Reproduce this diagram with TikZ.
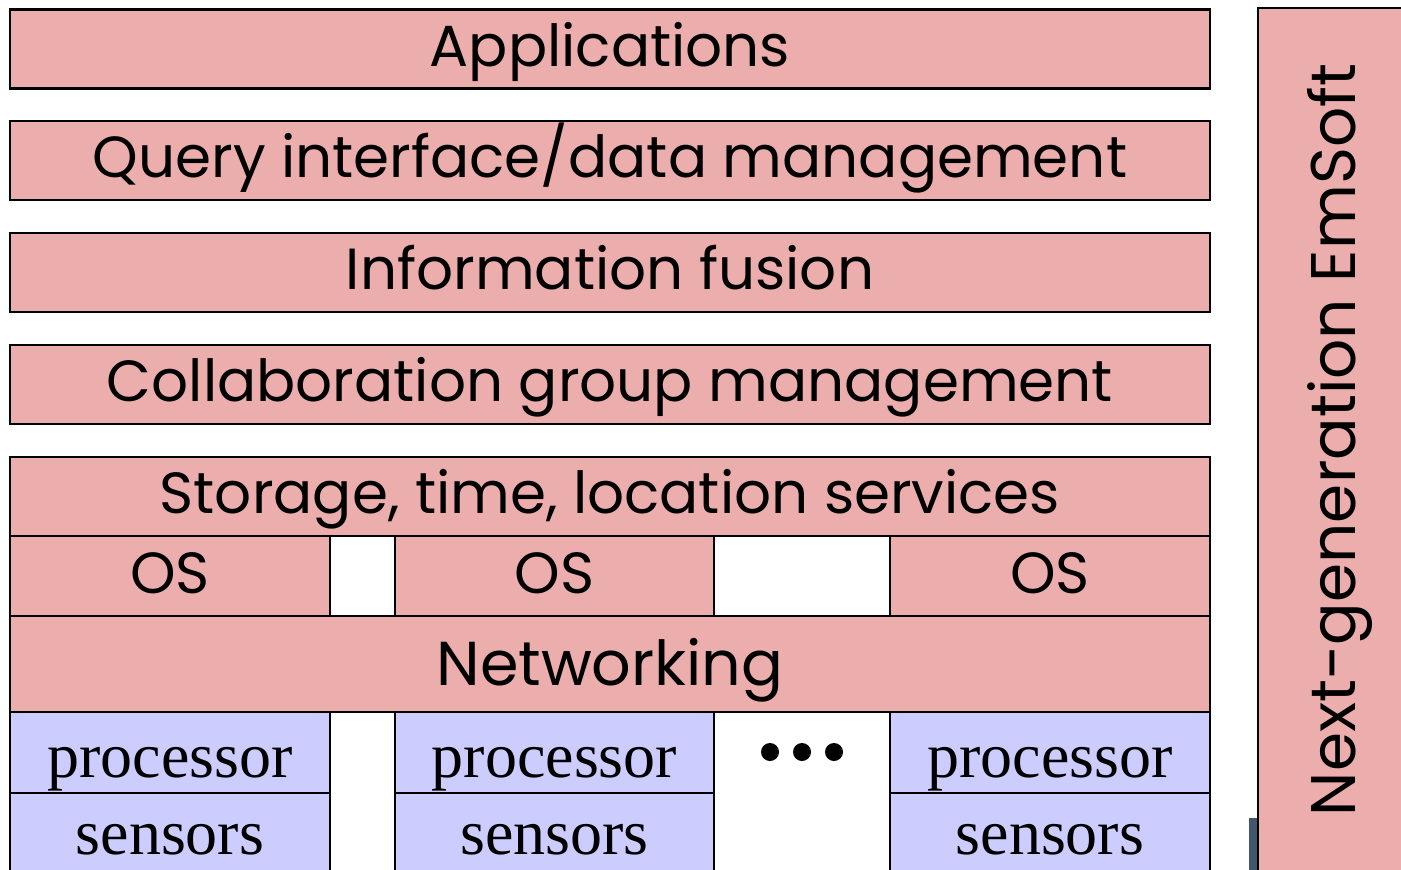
\documentclass[tikz,border=0pt]{standalone}
\usepackage{fontspec}
\setmainfont{Liberation Serif}
\newfontfamily\layerfont{Poppins}
\definecolor{layerR}{RGB}{236,173,173}
\definecolor{hwB}{RGB}{204,204,255}
\definecolor{edgeD}{RGB}{66,86,108}

\begin{document}
\begin{tikzpicture}[x=1pt,y=-1pt,
  layer/.style={draw,line width=2.4pt,fill=layerR,inner sep=0pt,minimum height=79pt,
    text height=40pt,text depth=6pt,font=\layerfont\fontsize{58}{64}\selectfont},
  hw/.style={draw,line width=2.4pt,fill=hwB,inner sep=0pt,minimum height=80pt,
    text height=49pt,text depth=0pt,font=\fontsize{64}{70}\selectfont},
  dot/.style={circle,fill=black,inner sep=0pt,minimum size=18pt}]
\path[use as bounding box,clip] (0,0) rectangle (1401,870);
% software stack
\node[layer,minimum width=1200pt] (apps) at (610,49) {Applications};
\node[layer,minimum width=1200pt] (query) at (610,160.5) {Query interface/data management};
\node[layer,minimum width=1200pt] (fusion) at (610,272.5) {Information fusion};
\node[layer,minimum width=1200pt] (collab) at (610,384.5) {Collaboration group management};
\node[layer,minimum width=1200pt] (store) at (610,496.5) {Storage, time, location services};
\node[layer,minimum width=320pt,minimum height=80pt] (os1) at (170,576) {OS};
\node[layer,minimum width=319pt,minimum height=80pt] (os2) at (554.5,576) {OS};
\node[layer,minimum width=320pt,minimum height=80pt] (os3) at (1050,576) {OS};
\node[layer,minimum width=1200pt,minimum height=96pt,text height=48pt,
  font=\layerfont\fontsize{62}{68}\selectfont] (net) at (610,664) {Networking};
% hardware per node
\node[hw,minimum width=320pt,minimum height=81pt] (proc1) at (170,752.5) {processor};
\node[hw,minimum width=319pt,minimum height=81pt] (proc2) at (554.5,752.5) {processor};
\node[hw,minimum width=320pt,minimum height=81pt] (proc3) at (1050,752.5) {processor};
\node[hw,minimum width=320pt,text height=42pt] (sens1) at (170,833) {sensors};
\node[hw,minimum width=319pt,text height=42pt] (sens2) at (554.5,833) {sensors};
\node[hw,minimum width=320pt,text height=42pt] (sens3) at (1050,833) {sensors};
\node[dot] (d1) at (770,752) {};
\node[dot] (d2) at (802,752) {};
\node[dot] (d3) at (834,752) {};
% side column
\node[layer,minimum width=872pt,minimum height=160pt,rotate=90] (emsoft) at (1338,444) {};
\node[rotate=90,anchor=base,font=\layerfont\fontsize{63}{68}\selectfont] (emsofttxt)
  at (1355,440) {Next-generation EmSoft};
\fill[edgeD] (1249,818) rectangle (1257,880);
\end{tikzpicture}
\end{document}
